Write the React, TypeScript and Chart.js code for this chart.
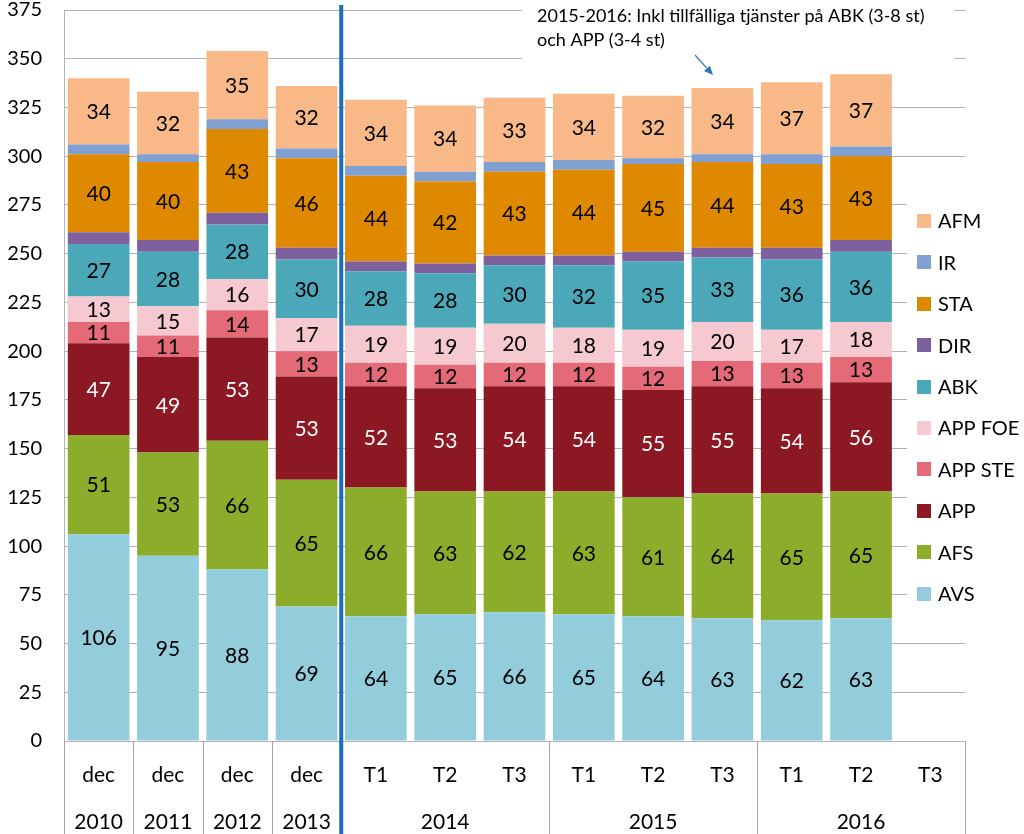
import React, { useEffect, useRef } from "react";
import { Chart, registerables } from "chart.js";

Chart.register(...registerables);

const categories = ["dec", "dec", "dec", "dec", "T1", "T2", "T3", "T1", "T2", "T3", "T1", "T2", "T3"];
const yearLabels = ["2010", "2011", "2012", "2013", "2014", "2015", "2016"];
const yearStart = [0, 1, 2, 3, 4, 7, 10];
const yearSize = [1, 1, 1, 1, 3, 3, 3];

const AVS = [106, 95, 88, 69, 64, 65, 66, 65, 64, 63, 62, 63, null];
const AFS = [51, 53, 66, 65, 66, 63, 62, 63, 61, 64, 65, 65, null];
const APP = [47, 49, 53, 53, 52, 53, 54, 54, 55, 55, 54, 56, null];
const APP_STE = [11, 11, 14, 13, 12, 12, 12, 12, 12, 13, 13, 13, null];
const APP_FOE = [13, 15, 16, 17, 19, 19, 20, 18, 19, 20, 17, 18, null];
const ABK = [27, 28, 28, 30, 28, 28, 30, 32, 35, 33, 36, 36, null];
const DIR = [6, 6, 6, 6, 5, 5, 5, 5, 5, 5, 6, 6, null];
const STA = [40, 40, 43, 46, 44, 42, 43, 44, 45, 44, 43, 43, null];
const IR = [5, 4, 5, 5, 5, 5, 5, 5, 3, 4, 5, 5, null];
const AFM = [34, 32, 35, 32, 34, 34, 33, 34, 32, 34, 37, 37, null];

const seriesNames = ["AVS", "AFS", "APP", "APP STE", "APP FOE", "ABK", "DIR", "STA", "IR", "AFM"];
const seriesData = [AVS, AFS, APP, APP_STE, APP_FOE, ABK, DIR, STA, IR, AFM];
const seriesColors = ["#93CDDC", "#8CAC2B", "#8C1823", "#E56A78", "#F6C8D0", "#4BA8B9", "#7E609F", "#DE8900", "#7FA0D0", "#F8B887"];
const seriesLabelled = [true, true, true, true, true, true, false, true, false, true];
const seriesLabelColor = ["#000", "#000", "#fff", "#000", "#000", "#000", "#000", "#000", "#000", "#000"];

const noteLines = ["2015-2016: Inkl tillfälliga tjänster på ABK (3-8 st)", "och APP (3-4 st)"];

const FONT = "Lato, 'Open Sans', sans-serif";

const overlayPlugin = {
  id: "overlay",
  afterDatasetsDraw(chart: any) {
    const ctx = chart.ctx;
    ctx.save();
    ctx.font = `21px ${FONT}`;
    ctx.textAlign = "center";
    ctx.textBaseline = "middle";
    chart.data.datasets.forEach((ds: any, di: number) => {
      if (!seriesLabelled[di]) return;
      const meta = chart.getDatasetMeta(di);
      meta.data.forEach((el: any, i: number) => {
        const v = ds.data[i];
        if (v === null || v === undefined) return;
        const cy = (el.y + el.base) / 2;
        ctx.fillStyle = seriesLabelColor[di];
        ctx.fillText(String(v), el.x, cy + 1);
      });
    });
    ctx.restore();
  },
  afterDraw(chart: any) {
    const ctx = chart.ctx;
    const area = chart.chartArea;
    const xs = chart.scales.x;
    const n = categories.length;
    const cw = (area.right - area.left) / n;
    const H = chart.height;
    ctx.save();

    // x-axis separators
    ctx.strokeStyle = "#A6A6A6";
    ctx.lineWidth = 1;
    const bounds = [0];
    yearStart.forEach((s, k) => bounds.push(s + yearSize[k]));
    bounds.forEach((b) => {
      const x = Math.round(area.left + b * cw) + 0.5;
      ctx.beginPath();
      ctx.moveTo(x, area.bottom);
      ctx.lineTo(x, H);
      ctx.stroke();
    });

    // category labels
    ctx.fillStyle = "#000";
    ctx.font = `21px ${FONT}`;
    ctx.textAlign = "center";
    ctx.textBaseline = "middle";
    categories.forEach((c, i) => {
      ctx.fillText(c, xs.getPixelForValue(i), 775);
    });
    yearLabels.forEach((y, k) => {
      const x0 = area.left + yearStart[k] * cw;
      const x1 = area.left + (yearStart[k] + yearSize[k]) * cw;
      ctx.fillText(y, (x0 + x1) / 2, 822);
    });

    // blue divider
    const bx = area.left + 4 * cw;
    ctx.strokeStyle = "#1A6EC0";
    ctx.lineWidth = 4;
    ctx.beginPath();
    ctx.moveTo(bx, 5);
    ctx.lineTo(bx, H);
    ctx.stroke();

    // annotation
    ctx.fillStyle = "#fff";
    ctx.fillRect(522, 0, 433, 62);
    ctx.fillStyle = "#000";
    ctx.font = `18px ${FONT}`;
    ctx.textAlign = "left";
    ctx.textBaseline = "alphabetic";
    ctx.fillText(noteLines[0], 537, 22);
    ctx.fillText(noteLines[1], 537, 46);
    // arrow
    const ax0 = 695, ay0 = 55, ax1 = 713, ay1 = 75;
    ctx.strokeStyle = "#2E75B6";
    ctx.fillStyle = "#2E75B6";
    ctx.lineWidth = 1.2;
    const ang = Math.atan2(ay1 - ay0, ax1 - ax0);
    const hl = 9, hw = 4;
    const bxp = ax1 - hl * Math.cos(ang), byp = ay1 - hl * Math.sin(ang);
    ctx.beginPath();
    ctx.moveTo(ax0, ay0);
    ctx.lineTo(bxp, byp);
    ctx.stroke();
    ctx.beginPath();
    ctx.moveTo(ax1, ay1);
    ctx.lineTo(bxp + hw * Math.sin(ang), byp - hw * Math.cos(ang));
    ctx.lineTo(bxp - hw * Math.sin(ang), byp + hw * Math.cos(ang));
    ctx.closePath();
    ctx.fill();

    // legend
    ctx.fillStyle = "#fff";
    ctx.fillRect(907, 193, 117, 424);
    ctx.font = `20px ${FONT}`;
    ctx.textAlign = "left";
    ctx.textBaseline = "middle";
    const order = [9, 8, 7, 6, 5, 4, 3, 2, 1, 0];
    order.forEach((si, k) => {
      const y = 221 + k * 41.4;
      ctx.fillStyle = seriesColors[si];
      ctx.fillRect(917, Math.round(y - 7), 14, 14);
      ctx.fillStyle = "#000";
      ctx.fillText(seriesNames[si], 938, y + 1);
    });

    ctx.restore();
  },
};

export default function App() {
  const ref = useRef<HTMLCanvasElement | null>(null);
  useEffect(() => {
    if (!ref.current) return;
    const chart = new Chart(ref.current, {
      type: "bar",
      data: {
        labels: categories,
        datasets: seriesNames.map((name, i) => ({
          label: name,
          data: seriesData[i],
          backgroundColor: seriesColors[i],
          borderWidth: 0,
          barPercentage: 0.89,
          categoryPercentage: 1,
        })),
      },
      options: {
        animation: false,
        responsive: false,
        devicePixelRatio: 1,
        layout: { padding: { left: 0, top: 10, right: 59, bottom: 0 } },
        plugins: { legend: { display: false }, tooltip: { enabled: false } },
        scales: {
          x: {
            stacked: true,
            grid: { display: false },
            border: { display: false },
            ticks: { display: false },
            afterFit: (s: any) => {
              s.height = 93;
              s.paddingLeft = 0;
              s.paddingRight = 0;
            },
          },
          y: {
            stacked: true,
            min: 0,
            max: 375,
            ticks: {
              stepSize: 25,
              color: "#000",
              padding: 22,
              font: { family: FONT, size: 20, lineHeight: 1 },
            },
            grid: { color: "#B3B3B3", drawTicks: false, lineWidth: 1 },
            border: { display: true, color: "#B3B3B3" },
            afterFit: (s: any) => {
              s.width = 64;
              s.paddingTop = 0;
              s.paddingBottom = 0;
            },
          },
        },
      },
      plugins: [overlayPlugin],
    });
    return () => chart.destroy();
  }, []);
  return (
    <div style={{ position: "fixed", left: 0, top: 0, width: 1024, height: 834, background: "#fff" }}>
      <canvas ref={ref} width={1024} height={834} style={{ width: 1024, height: 834, display: "block" }} />
    </div>
  );
}
